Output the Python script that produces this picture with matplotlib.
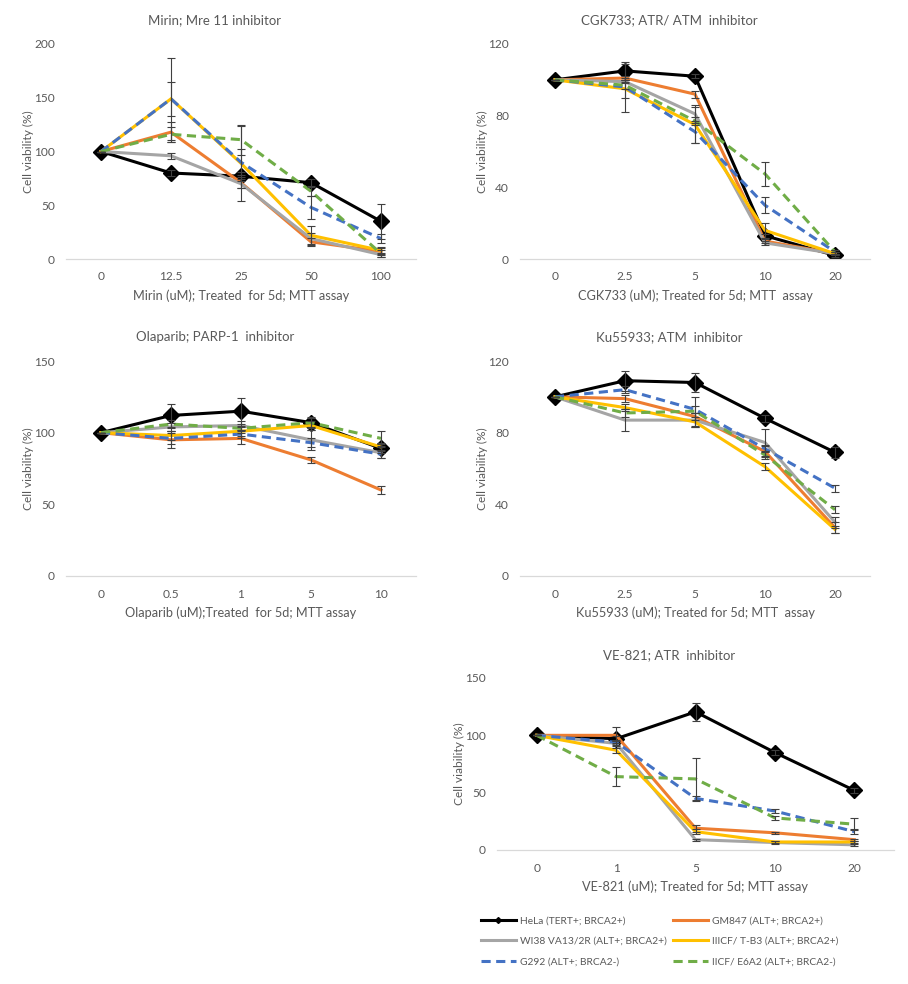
import matplotlib
matplotlib.use("Agg")
import matplotlib.pyplot as plt
from matplotlib.lines import Line2D

# ---------------- DATA ----------------
CELL_LINES = ["HeLa (TERT+; BRCA2+)", "GM847 (ALT+; BRCA2+)", "WI38 VA13/2R (ALT+; BRCA2+)",
              "IIICF/ T-B3 (ALT+; BRCA2+)", "G292 (ALT+; BRCA2-)", "IICF/ E6A2 (ALT+; BRCA2-)"]

MIRIN_DOSES = ["0", "12.5", "25", "50", "100"]
MIRIN_VALUES = [[100, 80, 77, 71, 35],
                [100, 118, 71, 16, 7],
                [100, 96, 70, 19, 4],
                [100, 149, 89, 22, 8],
                [100, 149, 90, 48, 19],
                [100, 116, 111, 63, 5]]
MIRIN_ERRORS = [[0, 3, 4, 3, 16],
                [0, 9, 5, 4, 3],
                [0, 3, 4, 5, 2],
                [0, 38, 35, 9, 3],
                [0, 16, 12, 11, 4],
                [0, 7, 14, 4, 3]]

CGK_DOSES = ["0", "2.5", "5", "10", "20"]
CGK_VALUES = [[100, 105, 102, 13, 2],
              [100, 101, 92, 10, 3],
              [100, 99, 81, 9, 3],
              [100, 95, 75, 16, 3],
              [100, 96, 71, 30, 4],
              [100, 97, 77, 47.5, 4]]
CGK_ERRORS = [[0, 4, 1, 1, 1],
              [0, 1, 2, 1, 1],
              [0, 1, 5, 1, 1],
              [0, 5, 10, 4, 1],
              [0, 14, 6, 4.5, 1],
              [0, 2, 2, 6.5, 1]]

OLAPARIB_DOSES = ["0", "0.5", "1", "5", "10"]
OLAPARIB_VALUES = [[100, 112, 115, 107, 89],
                   [100, 95, 96, 81, 60],
                   [100, 104, 105, 95, 86],
                   [100, 98, 101, 105, 90],
                   [100, 96, 99, 93, 85],
                   [100, 106, 103, 107, 96]]
OLAPARIB_ERRORS = [[0, 8, 9, 4, 3],
                   [0, 6, 4, 2, 3],
                   [0, 3, 3, 7, 4],
                   [0, 3, 3, 3, 3],
                   [0, 4, 3, 3, 3],
                   [0, 3, 2, 3, 5]]

KU_DOSES = ["0", "2.5", "5", "10", "20"]
KU_VALUES = [[100, 109, 108, 88, 69],
             [100, 99, 89, 69.5, 27],
             [100, 87, 87, 74.5, 30],
             [100, 94, 86, 61, 26],
             [100, 104, 93, 71, 49],
             [100, 91, 92, 67.5, 37]]
KU_ERRORS = [[0, 5.5, 5.5, 2, 3],
             [0, 2, 2, 3, 3],
             [0, 6, 4, 7.5, 3],
             [0, 2, 3, 2, 2],
             [0, 2, 2, 2, 2],
             [0, 2, 8, 2, 2]]

VE_DOSES = ["0", "1", "5", "10", "20"]
VE_VALUES = [[100, 97, 120.5, 85, 52],
             [100, 100, 19, 15, 9],
             [100, 93, 9, 6.5, 4.5],
             [100, 87, 16, 7, 7],
             [100, 94, 45, 34, 16],
             [100, 64, 62, 28, 22.5]]
VE_ERRORS = [[0, 2, 8, 2, 2],
             [0, 7, 3, 1, 1],
             [0, 2, 1, 1, 1],
             [0, 2, 2, 1, 1],
             [0, 2, 2, 2, 2],
             [0, 8, 18, 2, 5]]

# ---------------- STYLE ----------------
COLORS = ["black", "#ED7D31", "#A5A5A5", "#FFC000", "#4472C4", "#70AD47"]
DASHED = [False, False, False, False, True, True]
TEXT_COLOR = "#595959"
W, H = 908, 984

plt.rcParams['font.family'] = ['Lato', 'DejaVu Sans']


def px_rect(x0, y0, x1, y1):
    # pixel box (top-left origin) -> figure fraction rect
    return [x0 / W, 1 - y1 / H, (x1 - x0) / W, (y1 - y0) / H]


def line_style(i):
    return (0, (3, 1.8)) if DASHED[i] else "-"


def draw_panel(fig, rect, title, title_x, title_y, xlabel, doses, values, errors, yticks):
    ax = fig.add_axes(px_rect(*rect))
    xs = range(len(doses))
    for i in range(len(values)):
        ax.plot(xs, values[i], color=COLORS[i], lw=2.2, linestyle=line_style(i),
                marker="D" if i == 0 else None, markersize=8,
                zorder=2 + i * 0.1, solid_joinstyle="miter")
        ax.errorbar(xs, values[i], yerr=errors[i], fmt="none", ecolor="#404040",
                    elinewidth=0.8, capsize=3, capthick=0.8, zorder=4)
    ax.set_xlim(-0.5, len(doses) - 0.5)
    ax.set_ylim(yticks[0], yticks[-1])
    ax.set_xticks(list(xs))
    ax.set_xticklabels(doses)
    ax.set_yticks(yticks)
    for s in ["top", "right", "left"]:
        ax.spines[s].set_visible(False)
    ax.spines["bottom"].set_color("#D9D9D9")
    ax.spines["bottom"].set_linewidth(0.9)
    ax.tick_params(length=0, labelsize=8.6, colors=TEXT_COLOR)
    ax.tick_params(axis="y", pad=8)
    ax.tick_params(axis="x", pad=9)
    ax.set_xlabel(xlabel, fontsize=9.2, color=TEXT_COLOR, labelpad=5)
    ax.set_ylabel("Cell viability (%)", fontsize=8.6, color=TEXT_COLOR, labelpad=0)
    fig.text(title_x / W, 1 - title_y / H, title, ha="center", va="center",
             fontsize=9.5, color=TEXT_COLOR)
    return ax


fig = plt.figure(figsize=(W / 100, H / 100), dpi=100)

draw_panel(fig, (66, 44, 416, 259), "Mirin; Mre 11 inhibitor", 215, 20,
           "Mirin (uM); Treated  for 5d; MTT assay",
           MIRIN_DOSES, MIRIN_VALUES, MIRIN_ERRORS, [0, 50, 100, 150, 200])
draw_panel(fig, (520, 44, 870, 259), "CGK733; ATR/ ATM  inhibitor", 669, 20,
           "CGK733 (uM); Treated for 5d; MTT  assay",
           CGK_DOSES, CGK_VALUES, CGK_ERRORS, [0, 40, 80, 120])
draw_panel(fig, (66, 361, 416, 576), "Olaparib; PARP-1  inhibitor", 215, 337,
           "Olaparib (uM);Treated  for 5d; MTT assay",
           OLAPARIB_DOSES, OLAPARIB_VALUES, OLAPARIB_ERRORS, [0, 50, 100, 150])
draw_panel(fig, (520, 361, 870, 576), "Ku55933; ATM  inhibitor", 669, 337,
           "Ku55933 (uM); Treated for 5d; MTT  assay",
           KU_DOSES, KU_VALUES, KU_ERRORS, [0, 40, 80, 120])
draw_panel(fig, (497, 678, 894, 850), "VE-821; ATR  inhibitor", 669, 655,
           "VE-821 (uM); Treated for 5d; MTT assay",
           VE_DOSES, VE_VALUES, VE_ERRORS, [0, 50, 100, 150])

# legend: two columns placed separately (Excel row-wise order)
handles = [Line2D([], [], color=COLORS[i], lw=2.2, linestyle=line_style(i),
                  marker="D" if i == 0 else None, markersize=3)
           for i in range(len(CELL_LINES))]
leg_kw = dict(loc="upper left", frameon=False, fontsize=7.4, labelcolor=TEXT_COLOR,
              handlelength=3.4, handletextpad=0.38, labelspacing=1.13,
              borderaxespad=0, borderpad=0)
for col, x0 in enumerate([481, 673]):
    idx = [col, col + 2, col + 4]
    fig.legend([handles[i] for i in idx], [CELL_LINES[i] for i in idx],
               bbox_to_anchor=(x0 / W, 1 - 916 / H), **leg_kw)

fig.savefig("out.png", dpi=100)
